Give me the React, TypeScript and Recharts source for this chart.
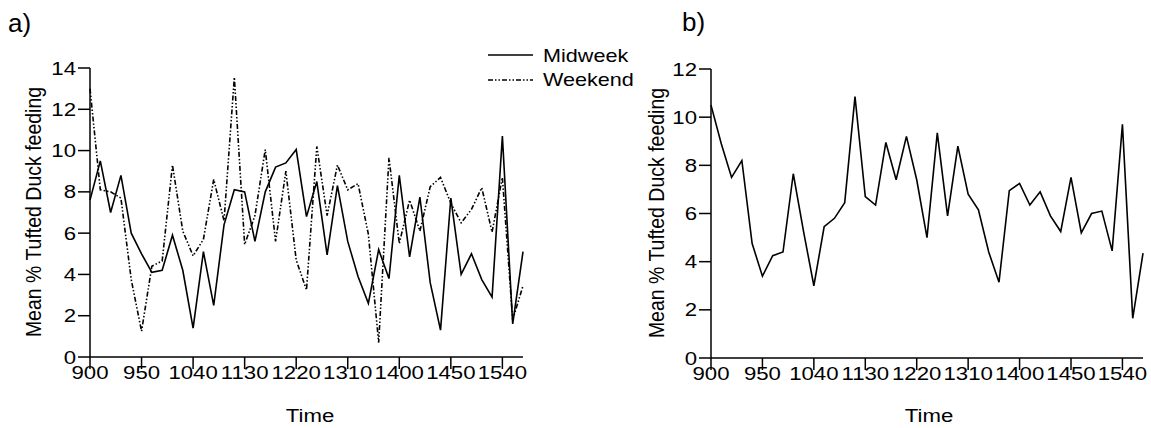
import React from 'react'
import { LineChart, Line, XAxis, YAxis } from 'recharts'

// time of day, 10 min steps
const times = [
  '900', '910', '920', '930', '940', '950', '1000', '1010', '1020', '1030',
  '1040', '1050', '1100', '1110', '1120', '1130', '1140', '1150', '1200', '1210',
  '1220', '1230', '1240', '1250', '1300', '1310', '1320', '1330', '1340', '1350',
  '1400', '1410', '1420', '1430', '1440', '1450', '1500', '1510', '1520', '1530',
  '1540', '1550', '1600',
]

// panel a)
const midweek = [
  7.6, 9.5, 7.0, 8.8, 6.0, 5.0, 4.1, 4.2, 5.9, 4.2,
  1.4, 5.1, 2.5, 6.4, 8.1, 8.0, 5.6, 8.0, 9.2, 9.4,
  10.05, 6.8, 8.5, 4.95, 8.3, 5.6, 3.9, 2.6, 5.2, 3.8,
  8.8, 4.85, 7.75, 3.6, 1.3, 7.7, 4.0, 5.0, 3.75, 2.9,
  10.7, 1.6, 5.1,
]
const weekend = [
  13.0, 8.1, 8.0, 7.7, 3.75, 1.25, 4.4, 4.65, 9.3, 6.1,
  4.9, 5.7, 8.6, 6.6, 13.55, 5.45, 6.85, 10.05, 5.6, 9.0,
  4.7, 3.25, 10.2, 6.85, 9.3, 8.1, 8.4, 5.95, 0.7, 9.65,
  5.5, 7.6, 6.1, 8.25, 8.7, 7.45, 6.5, 7.15, 8.2, 6.05,
  8.7, 1.8, 3.45,
]

// panel b)
const overall = [
  10.5, 8.9, 7.5, 8.2, 4.75, 3.4, 4.25, 4.4, 7.65, 5.25,
  3.0, 5.45, 5.8, 6.45, 10.85, 6.7, 6.35, 8.95, 7.4, 9.2,
  7.4, 5.0, 9.35, 5.9, 8.8, 6.8, 6.15, 4.4, 3.15, 6.95,
  7.25, 6.35, 6.9, 5.9, 5.25, 7.5, 5.2, 6.0, 6.1, 4.45,
  9.7, 1.65, 4.35,
]

const yTicksA = [0, 2, 4, 6, 8, 10, 12, 14]
const yTicksB = [0, 2, 4, 6, 8, 10, 12]

const dataA = times.map((t, i) => ({ time: t, midweek: midweek[i], weekend: weekend[i] }))
const dataB = times.map((t, i) => ({ time: t, mean: overall[i] }))

const FONT = '"Liberation Sans", Arial, sans-serif'
const SX = 1.2 // the source figure is stretched sideways a bit
const DASH = '5 2 1.5 2 1.5 2'
const axisStyle = { stroke: '#000', strokeWidth: 1.5 }

const XTick = ({ x, y, payload }: any) => (
  <text
    transform={`translate(${x},${y + 10}) scale(${SX},1)`}
    textAnchor="middle"
    fontSize={18.5}
    fontFamily={FONT}
    fill="#000"
  >
    {payload.value}
  </text>
)

const YTick = ({ x, y, payload }: any) => (
  <text
    transform={`translate(${x},${y + 6.6}) scale(${SX},1)`}
    textAnchor="end"
    fontSize={18.5}
    fontFamily={FONT}
    fill="#000"
  >
    {payload.value}
  </text>
)

function Titles() {
  const txt = { fontFamily: FONT, fill: '#000' }
  return (
    <svg width={1151} height={428} style={{ position: 'absolute', left: 0, top: 0, pointerEvents: 'none' }}>
      <text x={8} y={32} fontSize={26} {...txt}>a)</text>
      <text x={682} y={31} fontSize={26} {...txt}>b)</text>

      {/* legend */}
      <line x1={488} x2={533} y1={55} y2={55} stroke="#000" strokeWidth={1.6} />
      <line x1={488} x2={533} y1={80} y2={80} stroke="#000" strokeWidth={1.6} strokeDasharray={DASH} />
      <text transform={`translate(543,61.5) scale(${SX},1)`} fontSize={18} {...txt}>Midweek</text>
      <text transform={`translate(543,86) scale(${SX},1)`} fontSize={18} {...txt}>Weekend</text>

      {/* axis titles */}
      <text transform={`translate(310,422) scale(${SX},1)`} textAnchor="middle" fontSize={18.5} {...txt}>Time</text>
      <text transform={`translate(929,422) scale(${SX},1)`} textAnchor="middle" fontSize={18.5} {...txt}>Time</text>
      <text transform={`translate(41,212) scale(1.1,1) rotate(-90)`} textAnchor="middle" fontSize={19.5} {...txt}>
        Mean % Tufted Duck feeding
      </text>
      <text transform={`translate(664,213) scale(1.1,1) rotate(-90)`} textAnchor="middle" fontSize={19.5} {...txt}>
        Mean % Tufted Duck feeding
      </text>
    </svg>
  )
}

export default function App() {
  return (
    <div style={{ position: 'absolute', left: 0, top: 0, width: 1151, height: 428, background: '#fff' }}>
      <div style={{ position: 'absolute', left: 0, top: 0 }}>
        <LineChart width={575} height={428} data={dataA} margin={{ top: 68, right: 52, bottom: 0, left: 0 }}>
          <XAxis
            dataKey="time"
            interval={4}
            height={71}
            tickSize={12}
            tickMargin={0}
            axisLine={axisStyle}
            tickLine={axisStyle}
            tick={(p: any) => <XTick {...p} />}
          />
          <YAxis
            type="number"
            domain={[0, 14]}
            ticks={yTicksA}
            interval={0}
            width={90}
            tickSize={12}
            tickMargin={2}
            axisLine={axisStyle}
            tickLine={axisStyle}
            tick={(p: any) => <YTick {...p} />}
          />
          <Line type="linear" dataKey="midweek" stroke="#000" strokeWidth={1.6} dot={false} isAnimationActive={false} />
          <Line
            type="linear"
            dataKey="weekend"
            stroke="#000"
            strokeWidth={1.6}
            strokeDasharray={DASH}
            dot={false}
            isAnimationActive={false}
          />
        </LineChart>
      </div>
      <div style={{ position: 'absolute', left: 621, top: 0 }}>
        <LineChart width={530} height={428} data={dataB} margin={{ top: 69, right: 8, bottom: 0, left: 0 }}>
          <XAxis
            dataKey="time"
            interval={4}
            height={70}
            tickSize={12}
            tickMargin={0}
            axisLine={axisStyle}
            tickLine={axisStyle}
            tick={(p: any) => <XTick {...p} />}
          />
          <YAxis
            type="number"
            domain={[0, 12]}
            ticks={yTicksB}
            interval={0}
            width={90}
            tickSize={12}
            tickMargin={2}
            axisLine={axisStyle}
            tickLine={axisStyle}
            tick={(p: any) => <YTick {...p} />}
          />
          <Line type="linear" dataKey="mean" stroke="#000" strokeWidth={1.6} dot={false} isAnimationActive={false} />
        </LineChart>
      </div>
      <Titles />
    </div>
  )
}
